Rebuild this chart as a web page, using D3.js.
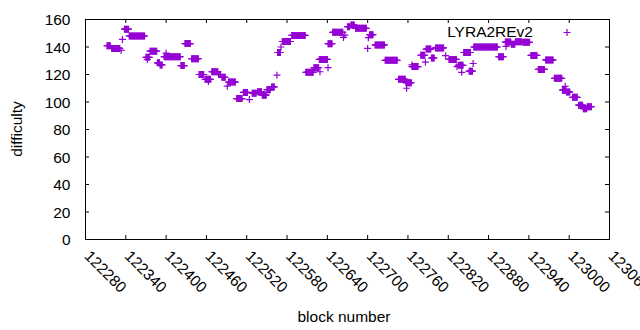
<!DOCTYPE html>
<html><head><meta charset="utf-8">
<script src="https://cdn.jsdelivr.net/npm/d3@7"></script>
<style>
html,body{margin:0;padding:0;background:#fff;}
svg text{font-family:"Liberation Sans",Arial,sans-serif;font-size:15.5px;fill:#000;}
</style></head>
<body>
<svg id="chart" width="640" height="330"></svg>
<script>
// Difficulty readings, run-length encoded: each run = consecutive blocks at the same difficulty
const runStart = [122312,122319,122338,122345,122370,122376,122387,122391,122397,122422,122428,122438,122449,122458,122468,122478,122483,122493,122505,122515,122528,122536,122543,122550,122557,122566,122573,122587,122608,122620,122628,122641,122648,122670,122675,122682,122703,122711,122726,122746,122757,122766,122779,122787,122795,122801,122821,122835,122843,122851,122858,122895,122905,122914,122920,122931,122943,122954,122965,122978,122990,122996,123005,123014,123021,123027];
const runEnd   = [122317,122331,122344,122368,122375,122386,122390,122394,122421,122427,122436,122448,122456,122466,122477,122481,122488,122503,122513,122521,122534,122542,122549,122555,122561,122570,122585,122607,122619,122627,122640,122647,122663,122673,122680,122698,122708,122725,122744,122756,122765,122775,122785,122794,122799,122813,122832,122842,122853,122856,122893,122902,122913,122919,122929,122941,122952,122963,122976,122989,122995,123001,123012,123020,123026,123033];
const runValue = [141,139,153,148,132.5,137,128.5,127,133,126.5,142.5,131.5,120,116.5,122,120,118,114.5,102.5,107,106.3,107.5,105,109,111,136,144,148.4,121.6,125,131,142.4,150.7,154.8,156,153.6,149,141.5,130.3,116.5,114,125.8,134,138.5,132,139.3,131,126.7,136,122.4,140,132.9,143.6,142,143.9,143.4,133.9,123.7,130.6,117.2,108.6,107.3,103.4,97.7,95.1,96.6];
// Isolated blocks
const extraBlock = [122333,122335,122372,122400,122463,122491,122524,122565,122571,122629,122641,122664,122666,122700,122701,122758,122766,122786,122816,122833,122840,122857,122906,122994];
const extraValue = [137.5,145.5,131,135.5,115,111.5,101.8,119.5,140,122,125,147,148.7,139,146.8,110,127,129,133.7,125.7,121.6,128,140.4,111.4];
const xTicks = [122280,122340,122400,122460,122520,122580,122640,122700,122760,122820,122880,122940,123000,123060];
const yTicks = [0,20,40,60,80,100,120,140,160];
const seriesName = "LYRA2REv2";
const color = "#9400d3";

const points = [];
runStart.forEach((s, i) => { for (let b = s; b <= runEnd[i]; b++) points.push({block: b, value: runValue[i]}); });
extraBlock.forEach((b, i) => points.push({block: b, value: extraValue[i]}));

const L = 85, R = 609, T = 19, B = 239;
const x = d3.scaleLinear().domain([122280, 123060]).range([L, R]);
const y = d3.scaleLinear().domain([0, 160]).range([B, T]);
const svg = d3.select("#chart");

const cross = "M-3.5,0H3.5M0,-3.5V3.5";

// axes
const gl = svg.append("g").attr("transform", `translate(${L},0)`)
  .call(d3.axisLeft(y).tickValues(yTicks).tickSize(-4).tickPadding(14.5));
const gr = svg.append("g").attr("transform", `translate(${R},0)`)
  .call(d3.axisRight(y).tickValues(yTicks).tickSize(-4).tickFormat(""));
const gb = svg.append("g").attr("transform", `translate(0,${B})`)
  .call(d3.axisBottom(x).tickValues(xTicks).tickSize(-4).tickFormat(d3.format("d")));
const gt = svg.append("g").attr("transform", `translate(0,${T})`)
  .call(d3.axisTop(x).tickValues(xTicks).tickSize(-4).tickFormat(""));
[gl, gr, gb, gt].forEach(g => { g.select(".domain").remove(); g.attr("font-size", null).attr("font-family", null); g.selectAll("line").attr("stroke", "#000"); });
gl.selectAll("text").attr("dy", "0.36em");
gb.selectAll("text").attr("y", null).attr("dy", null).attr("text-anchor", "start")
  .attr("transform", "translate(-2,18) rotate(45)");

svg.append("rect").attr("x", L + 0.5).attr("y", T + 0.5).attr("width", R - L).attr("height", B - T)
  .attr("fill", "none").attr("stroke", "#000").attr("stroke-width", 1);

// points
svg.append("g").attr("transform", "translate(0.5,0.5)").selectAll("path").data(points).join("path")
  .attr("d", cross).attr("transform", d => `translate(${x(d.block)},${y(d.value)})`)
  .attr("stroke", color).attr("stroke-width", 1.2).attr("fill", "none");

// legend
svg.append("text").attr("x", 533).attr("y", 37).attr("text-anchor", "end").text(seriesName);
svg.append("path").attr("d", cross).attr("transform", "translate(567,32.5)")
  .attr("stroke", color).attr("stroke-width", 1.2).attr("fill", "none");

// axis titles
svg.append("text").attr("x", 344).attr("y", 321.5).attr("text-anchor", "middle").text("block number");
svg.append("text").attr("transform", "translate(21.5,129) rotate(-90)").attr("text-anchor", "middle").text("difficulty");
</script>
</body></html>
